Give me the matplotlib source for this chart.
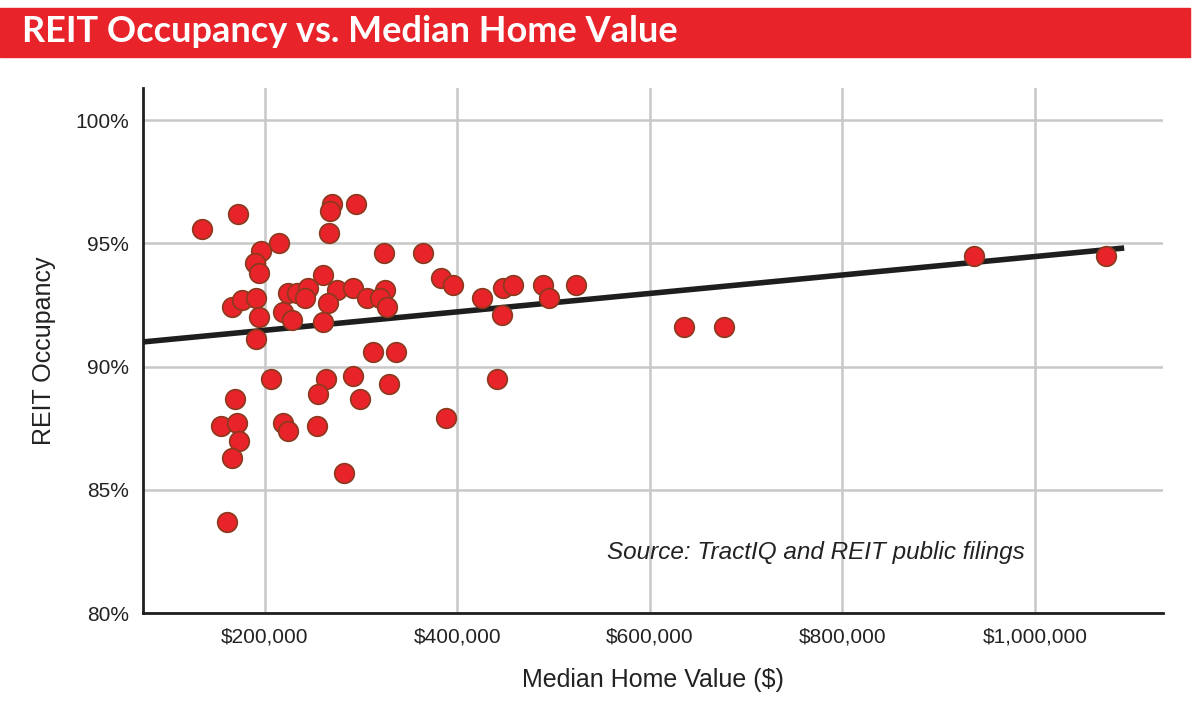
import matplotlib
matplotlib.use("Agg")
import matplotlib.pyplot as plt
from matplotlib.ticker import FuncFormatter
import numpy as np

plt.rcParams["font.family"] = "Liberation Sans"

# median home value ($ thousands) and REIT occupancy (%)
home_value_k = [134.5, 172, 269.5, 267.5, 294.5, 266.5, 214.5, 196, 189.5, 194,
                323.5, 364, 383, 395.5, 425.5, 447, 457.5, 489, 495, 523,
                446, 441, 388, 336, 260, 165.5, 176, 190.5, 224, 233,
                245, 241.5, 274.5, 265.5, 291.5, 306, 324.5, 319.5, 327, 219,
                228, 194, 260, 190.5, 312, 206, 263.5, 255, 291.5, 299,
                329, 169, 154.5, 171, 173, 165.5, 219, 224, 254, 282,
                160.5, 635.5, 677, 937, 1074]
occupancy = [95.6, 96.2, 96.6, 96.3, 96.6, 95.4, 95.0, 94.7, 94.2, 93.8,
             94.6, 94.6, 93.6, 93.3, 92.8, 93.2, 93.3, 93.3, 92.8, 93.3,
             92.1, 89.5, 87.9, 90.6, 93.7, 92.4, 92.7, 92.8, 93.0, 93.0,
             93.2, 92.8, 93.1, 92.6, 93.2, 92.8, 93.1, 92.8, 92.4, 92.2,
             91.9, 92.0, 91.8, 91.1, 90.6, 89.5, 89.5, 88.9, 89.6, 88.7,
             89.3, 88.7, 87.6, 87.7, 87.0, 86.3, 87.7, 87.4, 87.6, 85.7,
             83.7, 91.6, 91.6, 94.5, 94.5]
trend_x_k = [73, 1090]
trend_y = [91.0, 94.8]

x = np.array(home_value_k) * 1000
y = np.array(occupancy)

fig = plt.figure(figsize=(12, 7.04), dpi=100)
ax = fig.add_axes([0.119, 0.129, 0.850, 0.746])

ax.grid(True, color="#c8c8c8", linewidth=1.8)
ax.set_axisbelow(True)
ax.plot(np.array(trend_x_k) * 1000, trend_y, color="#1e1e1e", linewidth=4, zorder=2)
ax.scatter(x, y, s=200, color="#e8232a", edgecolors="#8a3a1e", linewidths=1.2, zorder=3)

ax.set_xlim(73000, 1133000)
ax.set_ylim(80, 101.3)
ax.set_xticks([200000, 400000, 600000, 800000, 1000000])
ax.set_yticks([80, 85, 90, 95, 100])
ax.xaxis.set_major_formatter(FuncFormatter(lambda v, p: f"${v:,.0f}"))
ax.yaxis.set_major_formatter(FuncFormatter(lambda v, p: f"{v:.0f}%"))
ax.tick_params(length=0, labelsize=15, pad=10, colors="#222222")

for s in ["top", "right"]:
    ax.spines[s].set_visible(False)
for s in ["left", "bottom"]:
    ax.spines[s].set_color("#1e1e1e")
    ax.spines[s].set_linewidth(2)

ax.set_xlabel("Median Home Value ($)", fontsize=18, labelpad=16, color="#222222")
ax.set_ylabel("REIT Occupancy", fontsize=18, labelpad=14, color="#222222")
ax.text(0.455, 0.115, "Source: TractIQ and REIT public filings", transform=ax.transAxes,
        fontsize=17.5, style="italic", color="#222222", ha="left", va="center")

# red title banner
fig.patches.append(plt.Rectangle((0, 1 - 57 / 704), 0.992, 49 / 704, transform=fig.transFigure,
                                 color="#e8232a", zorder=0))
fig.text(0.018, 1 - 32 / 704, "REIT Occupancy vs. Median Home Value", fontsize=26,
         fontweight="bold", family="Lato", color="white", va="center", ha="left")

fig.savefig("out.png", dpi=100)
